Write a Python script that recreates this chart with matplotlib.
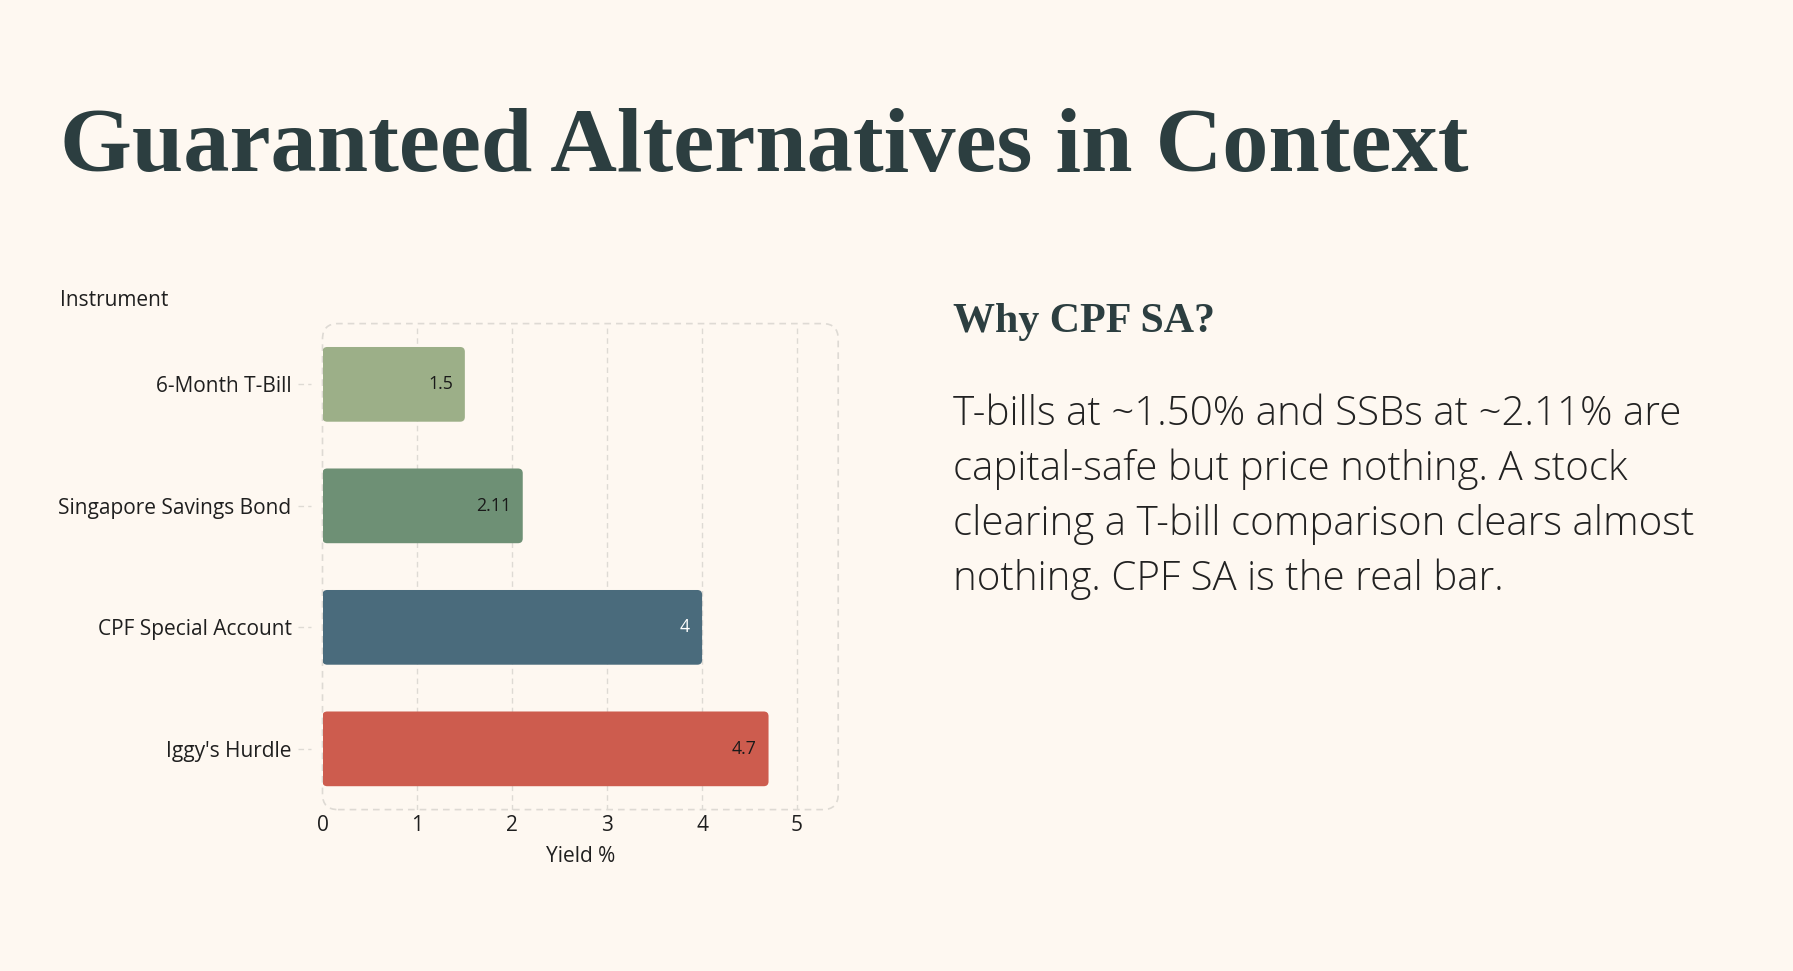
import matplotlib
matplotlib.use("Agg")
import matplotlib.pyplot as plt
from matplotlib.patches import FancyBboxPatch

# ---- data ----
instruments = ["6-Month T-Bill", "Singapore Savings Bond", "CPF Special Account", "Iggy's Hurdle"]
yields = [1.5, 2.11, 4.0, 4.7]
value_labels = ["1.5", "2.11", "4", "4.7"]
bar_colors = ["#9CAF88", "#6E9075", "#4A6B7C", "#CD5C4E"]
label_colors = ["#1a1a1a", "#1a1a1a", "#ffffff", "#1a1a1a"]
xticks = [0, 1, 2, 3, 4, 5]

title = "Guaranteed Alternatives in Context"
side_title = "Why CPF SA?"
body_lines = [
    "T-bills at ~1.50% and SSBs at ~2.11% are",
    "capital-safe but price nothing. A stock",
    "clearing a T-bill comparison clears almost",
    "nothing. CPF SA is the real bar.",
]

BG = "#FEF8F1"
DARK = "#2C3E40"
TXT = "#1f1f1f"
SANS = ["Open Sans", "DejaVu Sans"]
SERIF = ["Liberation Serif", "DejaVu Serif"]

W, H, DPI = 1793, 971, 100
fig = plt.figure(figsize=(W / DPI, H / DPI), dpi=DPI, facecolor=BG)
renderer = fig.canvas.get_renderer()


def fit_text(t, target_px):
    w = t.get_window_extent(renderer=renderer).width
    t.set_fontsize(t.get_fontsize() * target_px / w)


# ---- title ----
t = fig.text(59.5 / W, 1 - 171 / H, title, fontsize=70, fontweight="bold",
             family=SERIF, color=DARK, ha="left", va="baseline")
fit_text(t, 1410)

# ---- axes ----
left, right, top, bottom = 322.5, 838.2, 323.6, 809.6
ax = fig.add_axes([left / W, 1 - bottom / H, (right - left) / W, (bottom - top) / H])
ax.set_facecolor("none")
ypos = list(range(len(instruments)))
bars = ax.barh(ypos, yields, height=0.615, color=bar_colors, zorder=3)
ax.set_xlim(0, 5.434)
ax.set_ylim(len(instruments) - 0.5, -0.5)

# rounded bars (geometry from the bar patches)
xpx = (right - left) / 5.434
ypx = (bottom - top) / len(instruments)
for b in bars:
    b.set_visible(False)
    rp = FancyBboxPatch((b.get_x(), b.get_y()), b.get_width(), b.get_height(),
                        boxstyle="round,pad=0,rounding_size=0.05",
                        mutation_aspect=xpx / ypx,
                        facecolor=b.get_facecolor(), edgecolor="none", zorder=3)
    ax.add_patch(rp)

# tick-label font size fitted to the widest label width
probe = fig.text(0, 0, "Singapore Savings Bond", family=SANS, fontsize=12)
fit_text(probe, 232)
tick_fs = probe.get_fontsize()
probe.remove()

for yv, v, lab, c in zip(ypos, yields, value_labels, label_colors):
    ax.annotate(lab, (v, yv), xytext=(-12, 0), textcoords="offset pixels",
                ha="right", va="center", fontsize=tick_fs * 0.85, family=SANS, color=c, zorder=4)

ax.set_xticks(xticks)
ax.set_xticklabels([str(x) for x in xticks], family=SANS, fontsize=tick_fs, color=TXT)
ax.set_yticks(ypos)
ax.set_yticklabels(instruments, family=SANS, fontsize=tick_fs, color=TXT)
ax.tick_params(axis="x", length=0, pad=4)
ax.tick_params(axis="y", length=0, pad=31 * 72 / DPI)
for s in ax.spines.values():
    s.set_visible(False)
for xv in xticks[1:]:
    ax.axvline(xv, color="#dedad4", lw=1, ls=(0, (4, 3)), zorder=1)
# dashed tick stubs left of the frame
for yv in ypos:
    ax.plot([-25 / xpx, -12 / xpx], [yv, yv], color="#dedad4", lw=1,
            ls=(0, (4, 3)), clip_on=False, zorder=1)

frame = FancyBboxPatch((0, 0), 1, 1, transform=ax.transAxes,
                       boxstyle="round,pad=0,rounding_size=0.03",
                       mutation_aspect=(right - left) / (bottom - top),
                       facecolor="none", edgecolor="#dedad4", lw=1.2,
                       ls=(0, (4, 3)), clip_on=False, zorder=1)
ax.add_patch(frame)

ax.set_xlabel("Yield %", family=SANS, fontsize=tick_fs, color=TXT, labelpad=7)
fig.text(59.5 / W, 1 - 301 / H, "Instrument", family=SANS, fontsize=tick_fs,
         color=TXT, ha="left", va="center")

# ---- side panel ----
st = fig.text(952.5 / W, 1 - 332 / H, side_title, fontsize=30, fontweight="bold",
              family=SERIF, color=DARK, ha="left", va="baseline")
fit_text(st, 262)

body = []
for i, line in enumerate(body_lines):
    bt = fig.text(952.5 / W, 1 - (425 + 55 * i) / H, line, fontsize=24,
                  family=SANS, color="#222222", ha="left", va="baseline",
                  fontweight="light")
    body.append(bt)
wsum = sum(bt.get_window_extent(renderer=renderer).width for bt in body)
for bt in body:
    bt.set_fontsize(bt.get_fontsize() * 2703 / wsum)

fig.savefig("out.png", dpi=DPI, facecolor=BG)
